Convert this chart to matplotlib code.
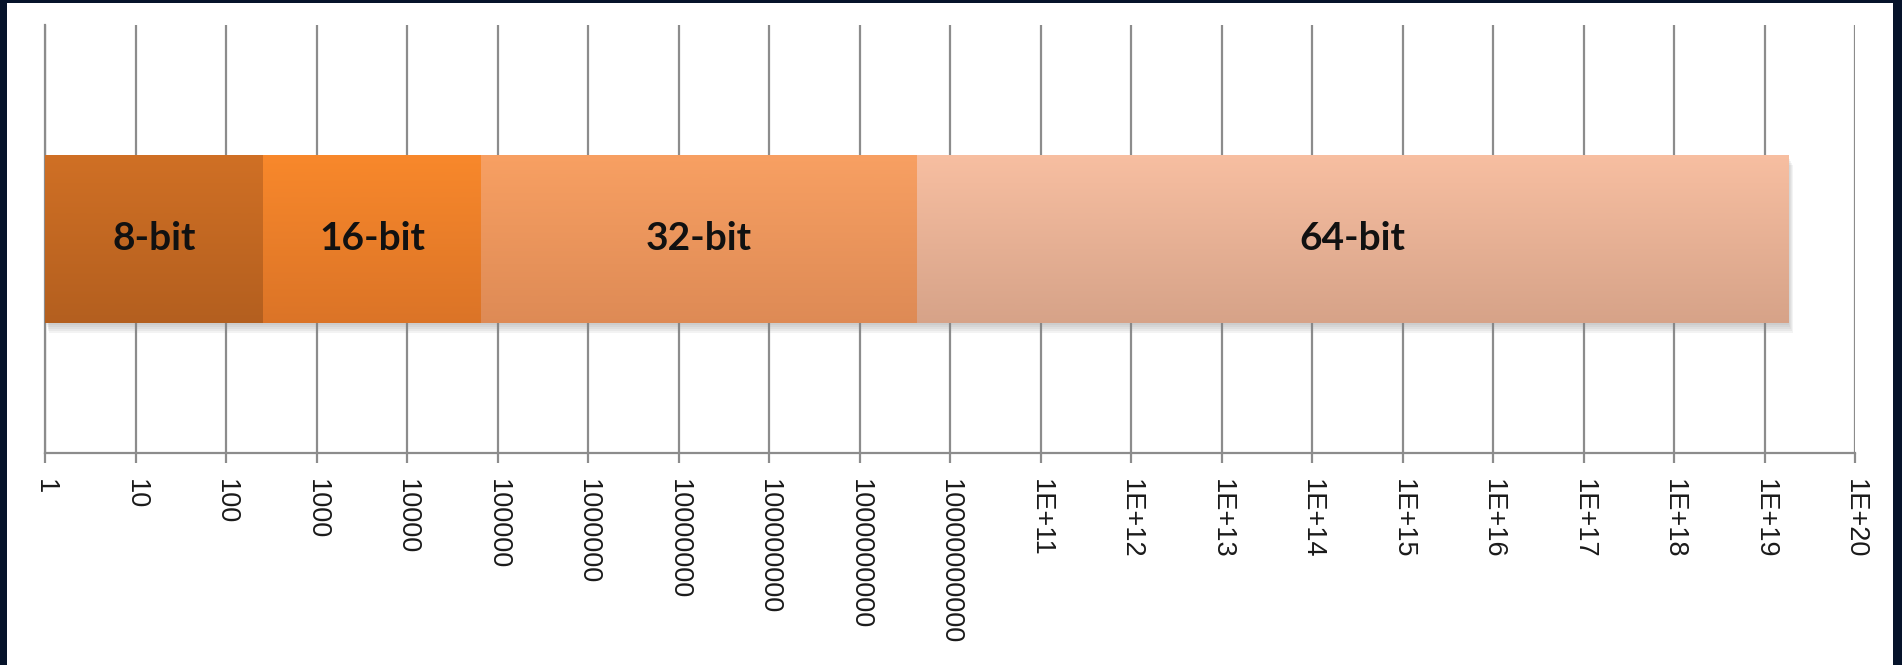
import numpy as np
import matplotlib
matplotlib.use("Agg")
import matplotlib.pyplot as plt
from matplotlib.patches import Rectangle
from matplotlib.image import AxesImage
from matplotlib.colors import to_rgb
import matplotlib.patheffects as pe

# ---- data ----
categories = ["8-bit", "16-bit", "32-bit", "64-bit"]
range_start = [1.0, 256.0, 65536.0, 4294967296.0]
range_end = [256.0, 65536.0, 4294967296.0, 18446744073709551616.0]
tick_values = [10.0 ** k for k in range(0, 21)]
tick_labels = ["1", "10", "100", "1000", "10000", "100000", "1000000",
               "10000000", "100000000", "1000000000", "10000000000",
               "1E+11", "1E+12", "1E+13", "1E+14", "1E+15", "1E+16",
               "1E+17", "1E+18", "1E+19", "1E+20"]

# ---- styles ----
top_colors = ["#D57326", "#FE8C2C", "#FDA465", "#FEC4A6"]
bottom_colors = ["#A6571C", "#CD6A25", "#D1804F", "#C6957C"]
grid_color = "#8c8c8c"

W, H = 1902, 665
fig = plt.figure(figsize=(W / 100, H / 100), dpi=100, facecolor="#06132a")
fig.patches.append(Rectangle((7 / W, 0), (1893 - 7) / W, (H - 3) / H,
                             transform=fig.transFigure, facecolor="white",
                             edgecolor="none", zorder=-10))

ax = fig.add_axes([45 / W, (H - 453) / H, 1810 / W, 428 / H])
ax.set_zorder(1)
ax.set_facecolor("none")
ax.set_xscale("log")
ax.set_autoscale_on(False)

bar_h = 0.785
widths = np.array(range_end) - np.array(range_start)
bars = ax.barh(0, widths, left=np.array(range_start), height=bar_h,
               color=top_colors, linewidth=0, zorder=2)
shadow = [pe.SimplePatchShadow(offset=(0.6 * k, -1.4 * k), shadow_rgbFace="#808080", alpha=0.09)
          for k in range(5, 0, -1)]
for p in bars.patches:
    p.set_path_effects(shadow + [pe.Normal()])

# vertical gradients clipped to each bar
y0 = (1 - bar_h) / 2
y1 = (1 + bar_h) / 2
for p, ct, cb in zip(bars.patches, top_colors, bottom_colors):
    t = np.linspace(0, 1, 128)[:, None]
    s = np.clip((t - 0.15) / 0.85, 0, 1)
    a = np.array(to_rgb(ct))[None, :]
    b = np.array(to_rgb(cb))[None, :]
    grad = (1 - s) * a + s * b
    grad = grad[:, None, :]
    im = AxesImage(ax, extent=(0, 1, y0, y1), transform=ax.transAxes,
                   interpolation="bilinear", origin="upper")
    im.set_data(grad)
    im.set_zorder(3)
    im.set_clip_path(p)
    ax.add_image(im)

for name, s, e in zip(categories, range_start, range_end):
    xc = np.sqrt(float(s) * float(e))
    ax.text(xc, 0, name, ha="center", va="center", fontsize=28,
            fontweight="bold", family="Lato", color="#111111", zorder=5)

ax.set_xlim(1, 1e20)
ax.set_ylim(-1, 1)
ax.set_xticks(tick_values)
ax.set_xticklabels(tick_labels, rotation=-90, ha="center", va="top",
                   fontsize=19.5, family="Liberation Sans", color="#1a1a1a")
ax.xaxis.set_minor_locator(matplotlib.ticker.NullLocator())
ax.set_yticks([])
ax.tick_params(axis="x", direction="out", length=7.5, width=1.6,
               color=grid_color, pad=11)
ax.grid(axis="x", color=grid_color, linewidth=1.6)
ax.set_axisbelow(True)
for side in ["top", "right"]:
    ax.spines[side].set_visible(False)
ax.spines["left"].set_color(grid_color)
ax.spines["left"].set_linewidth(1.6)
ax.spines["bottom"].set_color(grid_color)
ax.spines["bottom"].set_linewidth(1.6)

fig.savefig("out.png", dpi=100, facecolor=fig.get_facecolor())
